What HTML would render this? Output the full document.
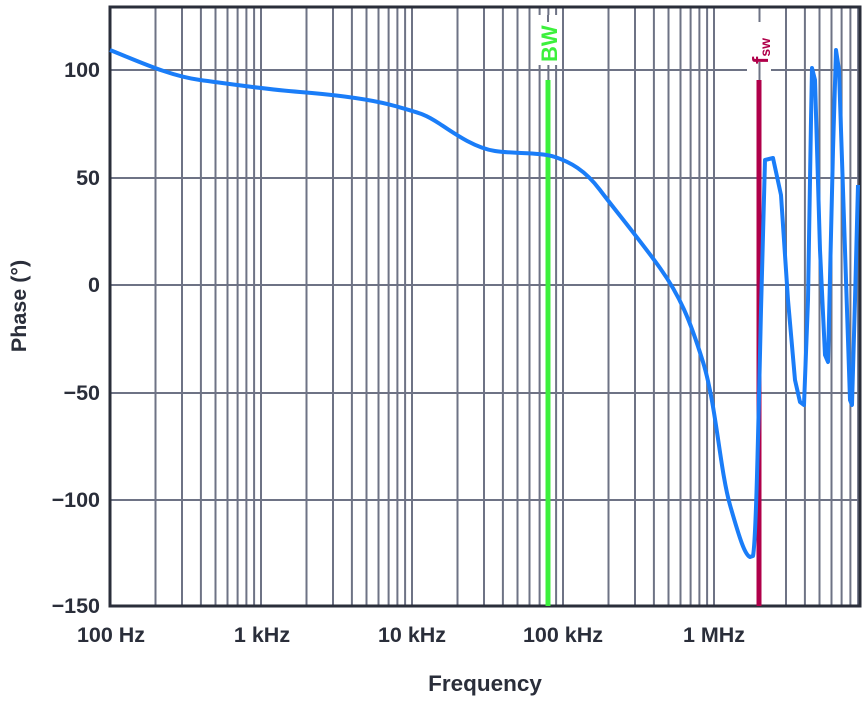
<!DOCTYPE html>
<html><head><meta charset="utf-8"><style>
body{margin:0;background:#fff}
svg{display:block;font-family:"Liberation Sans",sans-serif;font-weight:bold}
</style></head><body>
<svg width="867" height="702" viewBox="0 0 867 702" xmlns="http://www.w3.org/2000/svg">
<g stroke="#6e7385" stroke-width="2">
<line x1="110" y1="70" x2="860" y2="70"/>
<line x1="110" y1="178" x2="860" y2="178"/>
<line x1="110" y1="285" x2="860" y2="285"/>
<line x1="110" y1="393" x2="860" y2="393"/>
<line x1="110" y1="500" x2="860" y2="500"/>
<path d="M155.5 7V606M182 7V606M200.9 7V606M215.5 7V606M227.5 7V606M237.6 7V606M246.4 7V606M254.1 7V606M261 7V606
M306.5 7V606M333 7V606M351.9 7V606M366.5 7V606M378.5 7V606M388.6 7V606M397.4 7V606M405.1 7V606M412 7V606
M457.5 7V606M484 7V606M502.9 7V606M517.5 7V606M529.5 7V606M539.6 7V606M548.4 7V606M556.1 7V606M563 7V606
M608.5 7V606M635 7V606M653.9 7V606M668.5 7V606M680.5 7V606M690.6 7V606M699.4 7V606M707.1 7V606M714 7V606
M759.5 7V606M786 7V606M804.9 7V606M819.5 7V606M831.5 7V606M841.6 7V606M850.4 7V606M858.1 7V606"/>
</g>
<rect x="536" y="15" width="24" height="50" fill="#fff"/>
<rect x="747" y="15" width="24" height="62" fill="#fff"/>
<path d="M548 15V22M759.5 15V22M759.5 62V78" stroke="#6e7385" stroke-width="2"/>
<g stroke="#2a2e3a" stroke-width="3" fill="none"><rect x="110" y="7" width="750" height="599"/></g>
<line x1="548" y1="80" x2="548" y2="606" stroke="#3cf03c" stroke-width="5"/>
<line x1="759" y1="80" x2="759" y2="606" stroke="#b0004a" stroke-width="5"/>
<text transform="translate(557,62) rotate(-90)" font-size="22" fill="#3cf03c">BW</text>
<text transform="translate(768,64) rotate(-90)" font-size="22" fill="#b0004a">f<tspan font-size="14" dy="2">sw</tspan></text>
<path fill="none" stroke="#1a7df8" stroke-width="4" stroke-linejoin="round" d="M110 50 C140 62,170 76,200 80 S262 89,300 92 S370 99,395 106 S425 114,440 124 S475 148,495 151 S540 152,555 157 S585 170,600 190 S640 240,660 268 S690 320,703 362 S720 470,730 505 S745 555,750 557 L753 556 C756 540,758 440,761 310 L765 160 L773 158 L781 195 L788 300 L795 380 L800 402 L804 405 L808 300 L811 120 L812 68 L815 80 L820 250 L825 355 L828 362 L833 150 L836 50 L839 70 L845 250 L850 400 L852 405 L855 300 L858 185"/>
<g font-size="21.5" fill="#2a2e3a" text-anchor="end">
<text x="100" y="77">100</text>
<text x="100" y="185">50</text>
<text x="100" y="292">0</text>
<text x="100" y="400">−50</text>
<text x="100" y="507">−100</text>
<text x="100" y="613">−150</text>
</g>
<g font-size="21.5" fill="#2a2e3a" text-anchor="middle">
<text x="111" y="642">100 Hz</text>
<text x="262" y="642">1 kHz</text>
<text x="412" y="642">10 kHz</text>
<text x="563" y="642">100 kHz</text>
<text x="714" y="642">1 MHz</text>
<text x="485" y="691" font-size="22.5">Frequency</text>
</g>
<text transform="translate(26,306) rotate(-90)" font-size="21.5" fill="#2a2e3a" text-anchor="middle">Phase (°)</text>
</svg>
</body></html>
